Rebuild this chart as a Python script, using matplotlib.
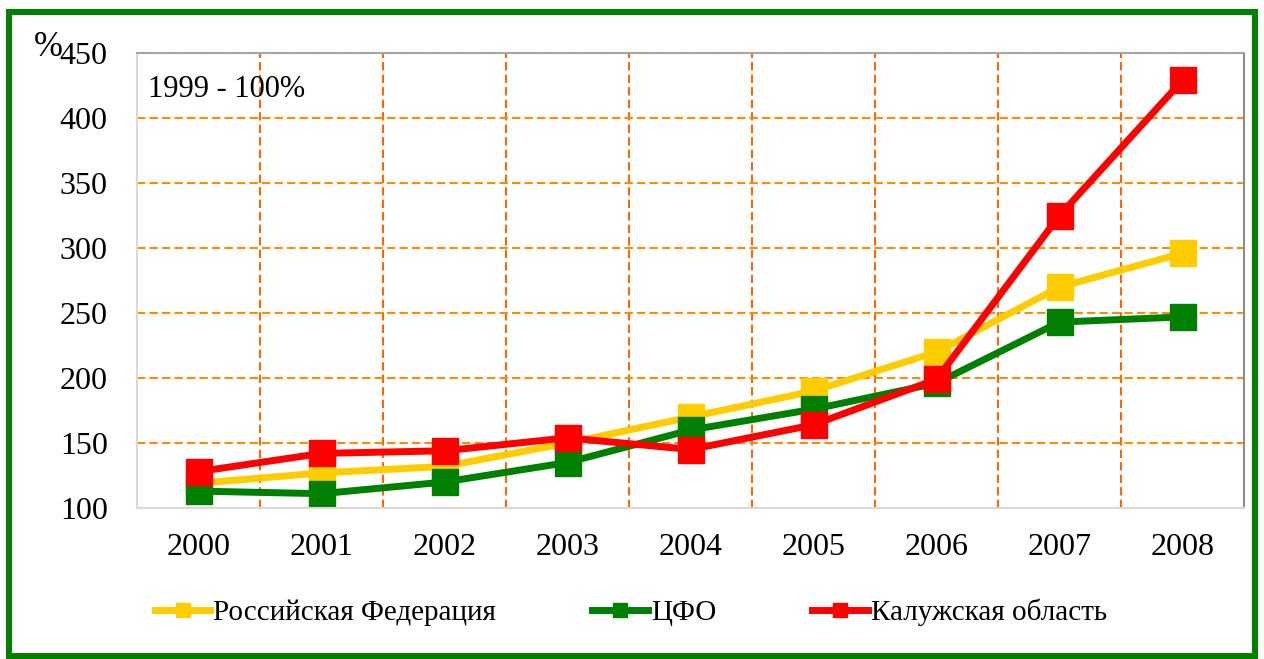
import matplotlib.pyplot as plt
import matplotlib.patches as patches

# data (1999 = 100%)
years = ['2000', '2001', '2002', '2003', '2004', '2005', '2006', '2007', '2008']
rf = [119, 127, 132, 150, 170, 190, 220, 270, 296]       # Российская Федерация
cfo = [113, 111, 120, 135, 160, 176, 196, 243, 247]      # ЦФО
kaluga = [128, 142, 144, 154, 145, 164, 199, 325, 429]   # Калужская область
names = ['Российская Федерация', 'ЦФО', 'Калужская область']
colors = ['#FFCC00', '#008000', '#FF0000']
yticks = [100, 150, 200, 250, 300, 350, 400, 450]

plt.rcParams['font.family'] = ['Liberation Serif', 'DejaVu Serif']

W, H = 1264, 659
fig = plt.figure(figsize=(W / 100, H / 100), dpi=100)
ax = fig.add_axes([137 / W, 1 - 508 / H, (1244 - 137) / W, (508 - 53) / H])

x = list(range(len(years)))
for vals, name, c in zip([rf, cfo, kaluga], names, colors):
    ax.plot(x, vals, color=c, lw=5, marker='s', ms=18.5, mec=c, label=name)

ax.set_xlim(-0.5, len(years) - 0.5)
ax.set_ylim(100, 450)
ax.set_yticks(yticks)
ax.set_xticks(x)
ax.set_xticklabels(years)
ax.set_xticks([i + 0.5 for i in x[:-1]], minor=True)
ax.tick_params(axis='both', which='both', length=0, labelsize=23)
ax.tick_params(axis='y', pad=21)
ax.tick_params(axis='x', pad=18)

ax.grid(axis='y', which='major', color='#FF8C00', lw=1.5, ls=(0, (4, 2)))
ax.grid(axis='x', which='minor', color='#FF6600', lw=1.5, ls=(0, (4, 2)))
ax.grid(axis='x', which='major', visible=False)
ax.set_axisbelow(True)

for side, col in [('left', '#D9D9D9'), ('bottom', '#D9D9D9'),
                  ('top', '#A6A6A6'), ('right', '#8C8C8C')]:
    ax.spines[side].set_color(col)
    ax.spines[side].set_linewidth(1.5)

ax.text(0.01, 0.92, '1999 - 100%', transform=ax.transAxes, fontsize=22,
        va='center', ha='left')
fig.text(34 / W, 1 - 47 / H, '%', fontsize=25, va='center', ha='left')

fig.legend(loc='center left', bbox_to_anchor=(155 / W, 1 - 612 / H), ncol=3,
           frameon=False, fontsize=21, markerscale=0.55, handlelength=1.9,
           handletextpad=0.1, columnspacing=3.3, borderpad=0, borderaxespad=0)

fig.patches.append(patches.Rectangle((9 / W, 3 / H), 1246 / W, 644 / H,
                                     transform=fig.transFigure, fill=False,
                                     edgecolor='#008000', lw=4.3))

fig.savefig('out.png', dpi=100)
